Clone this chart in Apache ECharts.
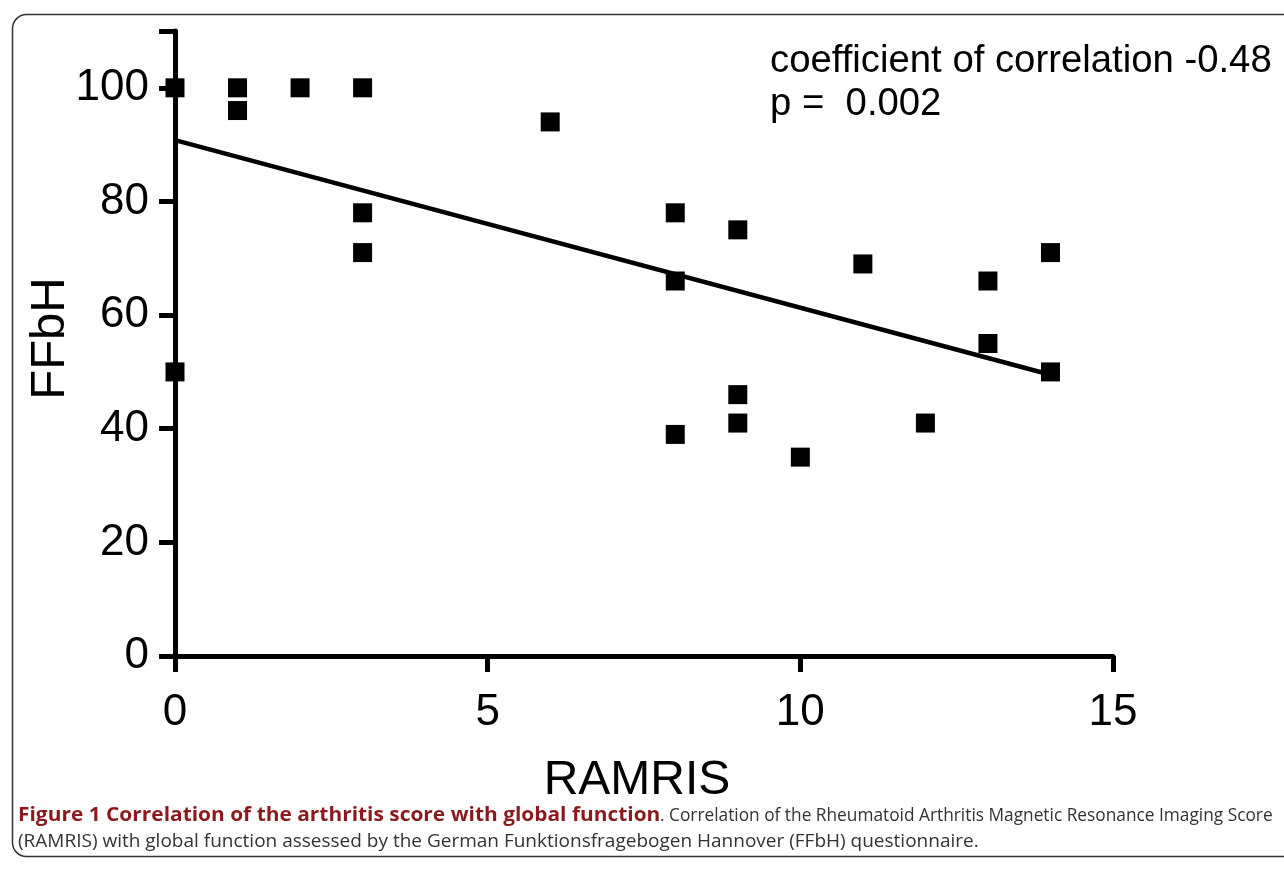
<!DOCTYPE html>
<html>
<head>
<meta charset="utf-8">
<script src="https://cdn.jsdelivr.net/npm/echarts@6/dist/echarts.min.js"></script>
<style>
html,body{margin:0;padding:0;background:#fff;}
#c{width:1284px;height:872px;}
</style>
</head>
<body>
<div id="c"></div>
<script>
// RAMRIS score (x) and FFbH (y) per patient
const ramris = [0, 0, 1, 1, 2, 3, 3, 3, 6, 8, 8, 8, 9, 9, 9, 10, 11, 12, 13, 13, 14, 14];
const ffbh   = [100, 50, 100, 96, 100, 100, 78, 71, 94, 78, 66, 39, 75, 46, 41, 35, 69, 41, 66, 55, 71, 50];
// regression line end points
const fitX = [0, 14];
const fitY = [90.8, 49.5];
const xTicks = [0, 5, 10, 15];
const yTicks = [0, 20, 40, 60, 80, 100];
const annotation = ['coefficient of correlation -0.48', 'p =  0.002'];
const captionBold = 'Figure 1 Correlation of the arthritis score with global function';
const captionRest1 = '. Correlation of the Rheumatoid Arthritis Magnetic Resonance Imaging Score';
const captionLine2 = '(RAMRIS) with global function assessed by the German Funktionsfragebogen Hannover (FFbH) questionnaire.';

const points = ramris.map((x, i) => [x, ffbh[i]]);
const fit = fitX.map((x, i) => [x, fitY[i]]);

const chart = echarts.init(document.getElementById('c'), null, {renderer: 'canvas'});
const axisFont = 'Liberation Sans, Arial, sans-serif';
chart.setOption({
  animation: false,
  backgroundColor: '#fff',
  grid: {left: 175, right: 171, top: 31, bottom: 216, containLabel: false},
  xAxis: {
    type: 'value', min: 0, max: 15, interval: 5,
    name: 'RAMRIS', nameLocation: 'middle', nameGap: 101, nameMoveOverlap: false,
    nameTextStyle: {fontFamily: axisFont, fontSize: 48, color: '#000', padding: [0, 14, 0, 0]},
    axisLine: {show: true, lineStyle: {color: '#000', width: 5}},
    axisTick: {show: true, length: 16, lineStyle: {color: '#000', width: 5}},
    axisLabel: {fontFamily: axisFont, fontSize: 44, color: '#000', margin: 35,
      formatter: v => xTicks.includes(v) ? String(v) : ''},
    splitLine: {show: false}
  },
  yAxis: {
    type: 'value', min: 0, max: 110, interval: 20,
    name: 'FFbH', nameLocation: 'middle', nameGap: 100, nameRotate: 90, nameMoveOverlap: false,
    nameTextStyle: {fontFamily: axisFont, fontSize: 49, color: '#000', padding: [0, 0, 0, 10]},
    axisLine: {show: true, lineStyle: {color: '#000', width: 5}},
    axisTick: {show: true, length: 16, lineStyle: {color: '#000', width: 5}},
    axisLabel: {fontFamily: axisFont, fontSize: 44, color: '#000', margin: 26,
      formatter: v => yTicks.includes(v) ? String(v) : ''},
    splitLine: {show: false}
  },
  series: [
    {
      type: 'line', data: fit, symbol: 'none', silent: true, z: 3,
      lineStyle: {color: '#000', width: 4.5}
    },
    {
      type: 'scatter', data: points, symbol: 'rect', symbolSize: 19, clip: false, z: 4,
      itemStyle: {color: '#000', opacity: 1}
    }
  ],
  graphic: [
    {type: 'rect', left: 10, top: 12, z: 0,
      shape: {width: 1320, height: 842, r: 14},
      style: {fill: 'none', stroke: '#333', lineWidth: 1.5}},
    {type: 'text', left: 770, top: 42, z: 5,
      style: {text: annotation[0], fontFamily: axisFont, fontSize: 38.3, fill: '#000'}},
    {type: 'text', left: 770, top: 85, z: 5,
      style: {text: annotation[1], fontFamily: axisFont, fontSize: 38.3, fill: '#000'}},
    {type: 'text', x: 18, y: 806, z: 5, scaleX: 1.1,
      style: {text: captionBold, fontFamily: 'Open Sans', fontWeight: 'bold', fontSize: 19, fill: '#8a1a1d'}},
    {type: 'text', x: 660, y: 806, z: 5, scaleX: 0.91,
      style: {text: captionRest1, fontFamily: 'Open Sans', fontSize: 19, fill: '#333'}},
    {type: 'text', x: 18, y: 832, z: 5,
      style: {text: captionLine2, fontFamily: 'Open Sans', fontSize: 19, fill: '#333'}}
  ]
});
</script>
</body>
</html>
